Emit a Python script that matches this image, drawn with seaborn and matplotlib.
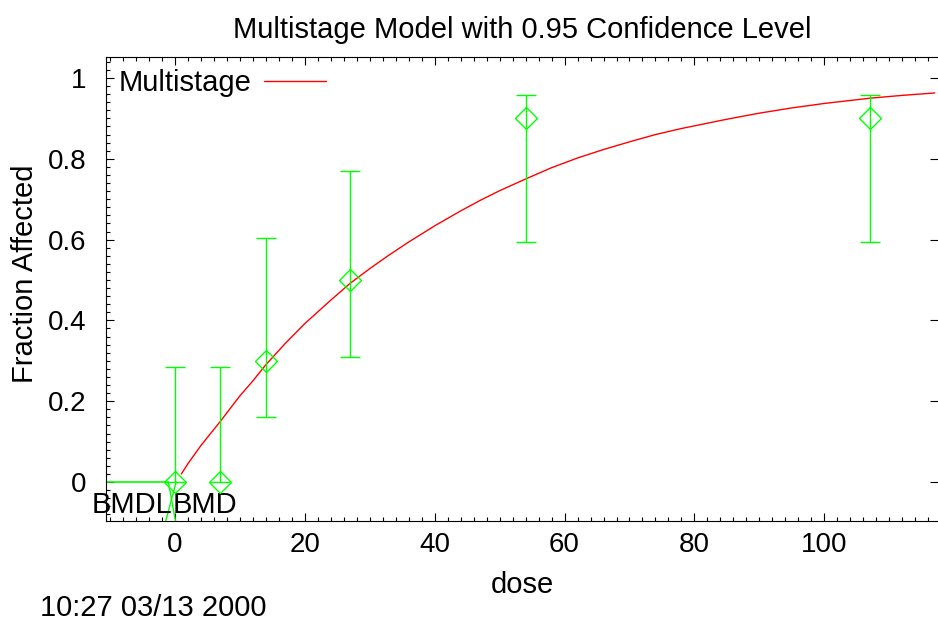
# Multistage dose-response plot with 0.95 confidence intervals

import matplotlib
matplotlib.use("Agg")
import matplotlib.pyplot as plt
from matplotlib.ticker import MultipleLocator, FuncFormatter
import seaborn as sns

doses = [0, 7, 14, 27, 54, 107]
fraction = [0.0, 0.0, 0.30, 0.50, 0.90, 0.90]
ci_low = [0.0, 0.0, 0.16, 0.31, 0.595, 0.595]
ci_high = [0.285, 0.285, 0.605, 0.77, 0.957, 0.957]

# fitted multistage curve
curve_dose = [1, 2, 4, 7, 10, 12, 14, 17, 20, 24, 27, 30, 33, 36, 40, 44, 47, 50,
              54, 58, 62, 66, 70, 74, 78, 85, 90, 95, 100, 107, 112, 117]
curve_frac = [0.02, 0.045, 0.09, 0.15, 0.213, 0.25, 0.29, 0.343, 0.392, 0.450, 0.492,
              0.528, 0.562, 0.594, 0.634, 0.671, 0.697, 0.721, 0.75, 0.778, 0.802,
              0.823, 0.842, 0.860, 0.875, 0.898, 0.913, 0.926, 0.937, 0.95, 0.957, 0.963]

# benchmark dose markers
bmdl = -1.0
bmd = 0.2

x_range = (-10.6, 117.5)
y_range = (-0.0965, 1.052)

green = "#00ff00"

sns.set_theme(style="ticks", rc={"figure.facecolor": "white", "axes.facecolor": "white",
                                 "text.color": "black", "axes.labelcolor": "black",
                                 "xtick.color": "black", "ytick.color": "black"})
plt.rcParams["font.family"] = ["Liberation Sans", "DejaVu Sans"]

fig = plt.figure(figsize=(9.38, 6.31), dpi=100)
ax = fig.add_axes([106 / 938, 110 / 631, 832 / 938, 464 / 631])

# model curve
sns.lineplot(x=curve_dose, y=curve_frac, color="red", linewidth=1.0, sort=False,
             label="Multistage", ax=ax)

# data with error bars
yerr = [[f - lo for f, lo in zip(fraction, ci_low)],
        [hi - f for f, hi in zip(fraction, ci_high)]]
ax.errorbar(doses, fraction, yerr=yerr, fmt="D", markersize=11, markerfacecolor="none",
            markeredgecolor=green, markeredgewidth=1.0, ecolor=green, elinewidth=1.0,
            capsize=7, capthick=1.0, zorder=3)

# BMD / BMDL lines
ax.plot([x_range[0], bmdl], [0, 0], color=green, linewidth=1.2)
ax.plot([bmdl, bmd - 0.1], [0, y_range[0]], color=green, linewidth=1.0)
ax.plot([bmd, bmdl - 0.4], [0, y_range[0]], color=green, linewidth=1.0)
ax.text(bmdl + 0.6, -0.058, "BMDL", ha="right", va="center", fontsize=21, color="black")
ax.text(bmd - 0.5, -0.058, "BMD", ha="left", va="center", fontsize=21, color="black")

ax.set_xlim(*x_range)
ax.set_ylim(*y_range)

ax.xaxis.set_major_locator(MultipleLocator(20))
ax.xaxis.set_minor_locator(MultipleLocator(2))
ax.yaxis.set_major_locator(MultipleLocator(0.2))
ax.yaxis.set_minor_locator(MultipleLocator(0.02))
ax.yaxis.set_major_formatter(FuncFormatter(lambda v, p: "%g" % round(v, 2)))

ax.tick_params(which="both", direction="in", top=True, right=True, labelsize=20,
               colors="black", width=0.8)
ax.tick_params(which="major", length=6, pad=8)
ax.tick_params(which="minor", length=3)
ax.tick_params(axis="y", which="minor", right=False)
ax.tick_params(axis="y", which="major", pad=14)

for side in ["left", "bottom", "top"]:
    ax.spines[side].set_linewidth(0.8)
    ax.spines[side].set_color("black")
ax.spines["right"].set_visible(False)

ax.set_xlabel("dose", fontsize=21, color="black")
ax.set_ylabel("Fraction Affected", fontsize=21, color="black")
ax.xaxis.set_label_coords(0.501, -0.138)
ax.yaxis.set_label_coords(-0.097, 0.532)
ax.xaxis.label.set_va("center")
ax.yaxis.label.set_va("center")

ax.set_title("Multistage Model with 0.95 Confidence Level", fontsize=21, pad=14,
             color="black")

leg = ax.legend(loc="upper left", frameon=False, markerfirst=False, fontsize=21,
                borderaxespad=0.2, borderpad=0.22, handlelength=2.1, handletextpad=0.45)
for t in leg.get_texts():
    t.set_color("black")

fig.text(40 / 938, (631 - 608) / 631, "10:27 03/13 2000", fontsize=21, va="center",
         color="black")

plt.savefig("out.png", dpi=100)
